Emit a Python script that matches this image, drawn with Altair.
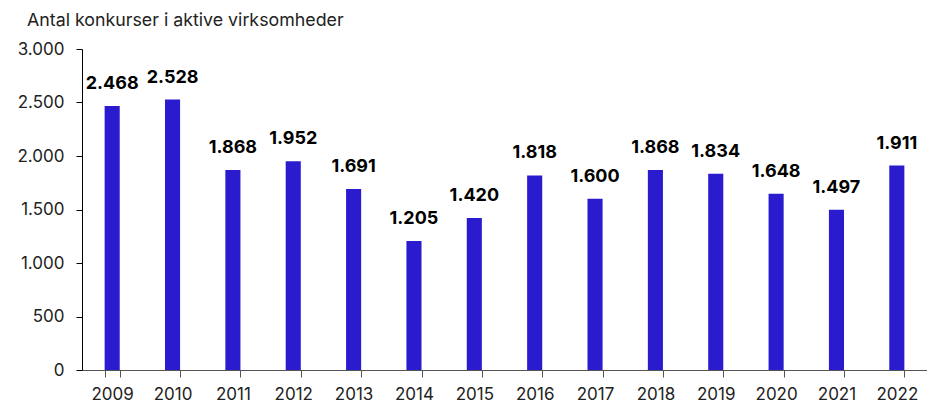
import altair as alt
import pandas as pd

years = ["2009", "2010", "2011", "2012", "2013", "2014", "2015", "2016", "2017", "2018", "2019", "2020", "2021", "2022"]
values = [2468, 2528, 1868, 1952, 1691, 1205, 1420, 1818, 1600, 1868, 1834, 1648, 1497, 1911]
labels = ["2.468", "2.528", "1.868", "1.952", "1.691", "1.205", "1.420", "1.818", "1.600", "1.868", "1.834", "1.648", "1.497", "1.911"]

df = pd.DataFrame({"year": years, "value": values, "label": labels})

FONT = "Inter"
BLUE = "#2a1bce"

x = alt.X("year:N", title=None, sort=years,
          scale=alt.Scale(paddingInner=0.75, paddingOuter=0.375),
          axis=alt.Axis(labelAngle=0, tickBand="extent", domainColor="#555555",
                        tickColor="#555555", tickSize=7, labelPadding=9,
                        labelFontSize=17, labelColor="#222222", labelFont=FONT))
y = alt.Y("value:Q", title=None,
          scale=alt.Scale(domain=[0, 3000], nice=False),
          axis=alt.Axis(values=[0, 500, 1000, 1500, 2000, 2500, 3000],
                        labelExpr="replace(format(datum.value, ',d'), ',', '.')",
                        grid=False, domainColor="#000000", tickColor="#000000",
                        tickSize=6, labelPadding=12, labelFontSize=17,
                        labelColor="#222222", labelFont=FONT))

base = alt.Chart(df)
bars = base.mark_bar(color=BLUE).encode(x=x, y=y)
text = base.mark_text(font=FONT, fontSize=18, fontWeight="bold", color="#000000",
                      baseline="bottom", dy=-13).encode(x=x, y=y, text="label:N")

chart = (bars + text).properties(
    width=845, height=321,
    autosize=alt.AutoSizeParams(type="none"),
    padding={"left": 82, "top": 49, "right": 0, "bottom": 30},
    title=alt.TitleParams("Antal konkurser i aktive virksomheder", anchor="start",
                          frame="group", font=FONT, fontSize=17.8, fontWeight="normal",
                          color="#222222", dx=-55, offset=10),
).configure_view(stroke=None)

chart.save("out.html", embed_options={"renderer": "svg", "actions": False})
